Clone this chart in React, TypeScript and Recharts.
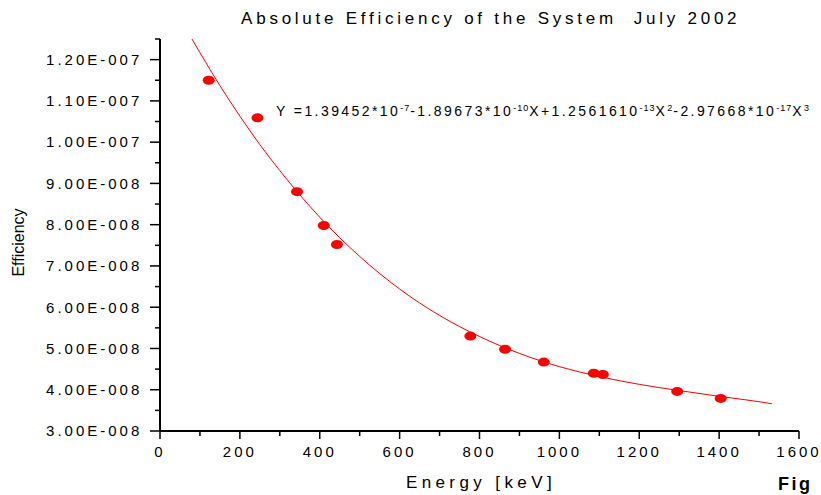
import React from "react";
import {
  ComposedChart,
  Line,
  Scatter,
  XAxis,
  YAxis,
  Customized,
} from "recharts";

// measured points (keV, absolute efficiency)
const energies = [122, 244, 343, 410, 443, 777, 864, 961, 1086, 1109, 1295, 1404];
const efficiencies = [
  1.15e-7, 1.059e-7, 8.8e-8, 7.98e-8, 7.52e-8, 5.3e-8, 4.98e-8, 4.67e-8, 4.4e-8,
  4.37e-8, 3.96e-8, 3.79e-8,
];

// fitted curve
const curveEnergies = [
  80, 100, 150, 200, 250, 300, 400, 500, 600, 700, 800, 900, 1000, 1100, 1200,
  1300, 1400, 1500, 1532,
];
const curveEfficiencies = [
  1.25e-7, 1.217e-7, 1.137e-7, 1.063e-7, 9.94e-8, 9.31e-8, 8.18e-8, 7.23e-8,
  6.44e-8, 5.8e-8, 5.29e-8, 4.88e-8, 4.56e-8, 4.32e-8, 4.13e-8, 3.98e-8,
  3.84e-8, 3.71e-8, 3.66e-8,
];

const xTicks = [
  0, 100, 200, 300, 400, 500, 600, 700, 800, 900, 1000, 1100, 1200, 1300, 1400,
  1500, 1600,
];
const yTicks = [
  3e-8, 3.5e-8, 4e-8, 4.5e-8, 5e-8, 5.5e-8, 6e-8, 6.5e-8, 7e-8, 7.5e-8, 8e-8,
  8.5e-8, 9e-8, 9.5e-8, 1e-7, 1.05e-7, 1.1e-7, 1.15e-7, 1.2e-7, 1.25e-7,
];

const points = energies.map((e, i) => ({ energy: e, eff: efficiencies[i] }));
const curve = curveEnergies.map((e, i) => ({ energy: e, eff: curveEfficiencies[i] }));

const FONT = "'Liberation Sans', Arial, sans-serif";
const RED = "#ff0000";

const sci = (v: number) => {
  const e = Math.floor(Math.log10(v) + 1e-9);
  const m = v / Math.pow(10, e);
  return m.toFixed(2) + "E-" + String(-e).padStart(3, "0");
};

const XTick = (props: any) => {
  const { x, y, payload } = props;
  const major = payload.value % 200 === 0;
  return (
    <g>
      <line x1={x} x2={x} y1={y} y2={y + (major ? 8 : 5)} stroke="#000" strokeWidth={1.5} />
      {major && (
        <text
          x={x}
          y={y + 26}
          textAnchor="middle"
          fontSize={15}
          fontFamily={FONT}
          fill="#000"
          style={{ letterSpacing: 3 }}
        >
          {payload.value}
        </text>
      )}
    </g>
  );
};

const YTick = (props: any) => {
  const { x, y, payload } = props;
  const n = payload.value * 1e8;
  const major = Math.abs(Math.round(n) - n) < 0.01 && payload.value < 1.22e-7;
  return (
    <g>
      <line x1={x} x2={x - (major ? 10 : 5)} y1={y} y2={y} stroke="#000" strokeWidth={1.5} />
      {major && (
        <text
          x={x - 17.7}
          y={y + 5.3}
          textAnchor="end"
          fontSize={15}
          fontFamily={FONT}
          fill="#000"
          style={{ letterSpacing: 3 }}
        >
          {sci(payload.value)}
        </text>
      )}
    </g>
  );
};

const Dot = (props: any) => (
  <ellipse cx={props.cx} cy={props.cy} rx={6} ry={4.5} fill={RED} />
);

const Overlay = () => {
  const sup = { fontSize: 9, style: { letterSpacing: 1 } };
  const main = { fontSize: 14 };
  return (
    <g fontFamily={FONT} fill="#000">
      <text
        x={490.7}
        y={24}
        textAnchor="middle"
        fontSize={17}
        style={{ letterSpacing: 3.75, whiteSpace: "pre" }}
      >
        {"Absolute Efficiency of the System  July 2002"}
      </text>
      <text x={276} y={116} fontSize={14} style={{ letterSpacing: 2.42, whiteSpace: "pre" }}>
        <tspan>Y =1.39452*10</tspan>
        <tspan dy={-5.5} {...sup}>-7</tspan>
        <tspan dy={5.5} {...main}>-1.89673*10</tspan>
        <tspan dy={-5.5} {...sup}>-10</tspan>
        <tspan dy={5.5} {...main}>X+1.2561610</tspan>
        <tspan dy={-5.5} {...sup}>-13</tspan>
        <tspan dy={5.5} {...main}>X</tspan>
        <tspan dy={-5.5} {...sup}>2</tspan>
        <tspan dy={5.5} {...main}>-2.97668*10</tspan>
        <tspan dy={-5.5} {...sup}>-17</tspan>
        <tspan dy={5.5} {...main}>X</tspan>
        <tspan dy={-5.5} {...sup}>3</tspan>
      </text>
      <text
        x={24}
        y={242.5}
        textAnchor="middle"
        fontSize={16}
        transform="rotate(-90, 24, 242.5)"
      >
        Efficiency
      </text>
      <text
        x={481}
        y={488}
        textAnchor="middle"
        fontSize={17}
        style={{ letterSpacing: 4.4 }}
      >
        Energy [keV]
      </text>
      <text x={778} y={490} fontSize={18} fontWeight="bold" style={{ letterSpacing: 2.5 }}>
        Fig
      </text>
    </g>
  );
};

export default function App() {
  return (
    <div
      style={{
        position: "absolute",
        left: 0,
        top: 0,
        width: 821,
        height: 495,
        background: "#fff",
        overflow: "hidden",
      }}
    >
      <ComposedChart
        width={821}
        height={495}
        margin={{ top: 39, right: 22, bottom: 0, left: 0 }}
      >
        <XAxis
          dataKey="energy"
          type="number"
          domain={[0, 1600]}
          ticks={xTicks}
          interval={0}
          height={64}
          tickSize={0}
          tickMargin={0}
          tickLine={false}
          axisLine={{ stroke: "#000", strokeWidth: 2 }}
          tick={<XTick />}
          allowDataOverflow
        />
        <YAxis
          dataKey="eff"
          type="number"
          domain={[3e-8, 1.25e-7]}
          ticks={yTicks}
          interval={0}
          width={160}
          tickSize={0}
          tickMargin={0}
          tickLine={false}
          axisLine={{ stroke: "#000", strokeWidth: 2 }}
          tick={<YTick />}
          allowDataOverflow
        />
        <Line
          data={curve}
          dataKey="eff"
          type="monotone"
          stroke={RED}
          strokeWidth={1}
          dot={false}
          activeDot={false}
          isAnimationActive={false}
        />
        <Scatter
          data={points}
          dataKey="eff"
          fill={RED}
          shape={<Dot />}
          isAnimationActive={false}
        />
        <Customized component={<Overlay />} />
      </ComposedChart>
    </div>
  );
}
